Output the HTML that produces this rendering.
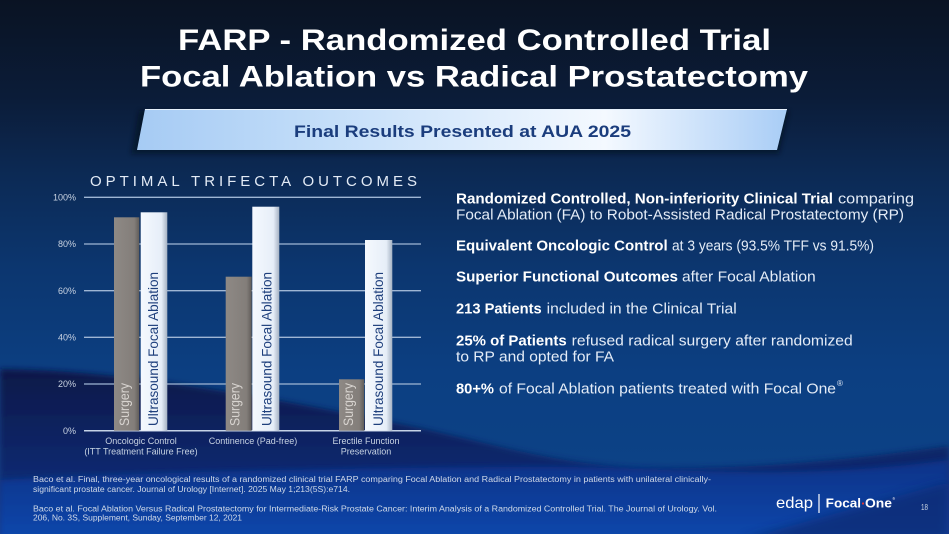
<!DOCTYPE html>
<html>
<head>
<meta charset="utf-8">
<style>
html,body{margin:0;padding:0;background:#0a1323;}
svg{display:block;}
text{font-family:"Liberation Sans",sans-serif;}
</style>
</head>
<body>
<svg width="949" height="534" viewBox="0 0 949 534" xmlns="http://www.w3.org/2000/svg">
<defs>
  <linearGradient id="bg" x1="0" y1="0" x2="0" y2="534" gradientUnits="userSpaceOnUse">
    <stop offset="0" stop-color="#0a1323"/>
    <stop offset="0.18" stop-color="#0b1c38"/>
    <stop offset="0.33" stop-color="#0c2a55"/>
    <stop offset="0.5" stop-color="#0c366f"/>
    <stop offset="0.7" stop-color="#0c3f82"/>
    <stop offset="1" stop-color="#0d4489"/>
  </linearGradient>
  <linearGradient id="band" x1="0" y1="369" x2="0" y2="534" gradientUnits="userSpaceOnUse">
    <stop offset="0" stop-color="#071848"/>
    <stop offset="0.45" stop-color="#0a2464"/>
    <stop offset="1" stop-color="#0c3388"/>
  </linearGradient>
  <linearGradient id="low" x1="0" y1="460" x2="0" y2="534" gradientUnits="userSpaceOnUse">
    <stop offset="0" stop-color="#0c3388"/>
    <stop offset="1" stop-color="#1146aa"/>
  </linearGradient>
  <linearGradient id="banner" x1="137" y1="0" x2="787" y2="0" gradientUnits="userSpaceOnUse">
    <stop offset="0" stop-color="#a6cbf4"/>
    <stop offset="0.3" stop-color="#c4def9"/>
    <stop offset="0.72" stop-color="#f4f9ff"/>
    <stop offset="1" stop-color="#a9cdf6"/>
  </linearGradient>
  <linearGradient id="surg" x1="0" y1="0" x2="1" y2="0">
    <stop offset="0" stop-color="#8e8985"/>
    <stop offset="0.8" stop-color="#837e7a"/>
    <stop offset="1" stop-color="#605c59"/>
  </linearGradient>
  <linearGradient id="ufa" x1="0" y1="0" x2="1" y2="0">
    <stop offset="0" stop-color="#f5f9fe"/>
    <stop offset="0.78" stop-color="#e6eef8"/>
    <stop offset="1" stop-color="#a5b2c3"/>
  </linearGradient>
  <filter id="blur3" x="-5%" y="-20%" width="110%" height="140%"><feGaussianBlur stdDeviation="3"/></filter>
  <filter id="blur5" x="-20%" y="-50%" width="140%" height="200%"><feGaussianBlur stdDeviation="5"/></filter>
  <filter id="shadow" x="-5%" y="-30%" width="110%" height="180%"><feGaussianBlur stdDeviation="2.5"/></filter>
</defs>

<!-- background -->
<rect x="0" y="0" width="949" height="534" fill="url(#bg)"/>
<path d="M0,369 C120,370 260,395 420,428 C500,446 560,464 640,468 C760,470 860,458 949,446 L949,540 L0,540 Z" fill="url(#band)" filter="url(#blur3)"/>
<path d="M0,480 C150,472 350,468 520,467 C620,466 700,474 800,472 C870,470 920,464 949,460 L949,540 L0,540 Z" fill="url(#low)" filter="url(#blur3)"/>
<path d="M740,540 L949,482 L949,540 Z" fill="#0a2a72" opacity="0.75" filter="url(#blur5)"/>

<!-- Title -->
<text x="178" y="50" font-size="30" font-weight="bold" fill="#ffffff" textLength="593" lengthAdjust="spacingAndGlyphs">FARP - Randomized Controlled Trial</text>
<text x="140" y="86.5" font-size="30" font-weight="bold" fill="#ffffff" textLength="668" lengthAdjust="spacingAndGlyphs">Focal Ablation vs Radical Prostatectomy</text>

<!-- Banner -->
<polygon points="139,111 789,111 779,154 131,154" fill="#000814" opacity="0.5" filter="url(#shadow)"/>
<polygon points="145,109 787,109 777,150 137,150" fill="url(#banner)"/>
<line x1="145" y1="109.5" x2="787" y2="109.5" stroke="#e6f1fd" stroke-width="1"/>
<text x="294" y="137" font-size="17" font-weight="bold" fill="#1b3d7d" textLength="337" lengthAdjust="spacingAndGlyphs">Final Results Presented at AUA 2025</text>

<!-- Chart title -->
<text x="90" y="186" font-size="15" fill="#e3ebf6" textLength="327" lengthAdjust="spacing">OPTIMAL TRIFECTA OUTCOMES</text>

<!-- Gridlines -->
<g stroke="#9fb6d4" stroke-width="1.3">
  <line x1="84" y1="197.3" x2="421" y2="197.3"/>
  <line x1="84" y1="244" x2="421" y2="244"/>
  <line x1="84" y1="290.7" x2="421" y2="290.7"/>
  <line x1="84" y1="337.3" x2="421" y2="337.3"/>
  <line x1="84" y1="384" x2="421" y2="384"/>
</g>
<line x1="84" y1="430.7" x2="421" y2="430.7" stroke="#c5d3e6" stroke-width="1.5"/>

<!-- Y labels -->
<g font-size="9" fill="#c9d3e2" text-anchor="end">
  <text x="76" y="200.5">100%</text>
  <text x="76" y="247.2">80%</text>
  <text x="76" y="293.9">60%</text>
  <text x="76" y="340.5">40%</text>
  <text x="76" y="387.2">20%</text>
  <text x="76" y="433.9">0%</text>
</g>

<!-- Bars -->
<rect x="114" y="217.3" width="25.3" height="213.4" fill="url(#surg)"/>
<rect x="140.7" y="212.3" width="26.6" height="218.4" fill="url(#ufa)"/>
<rect x="225.7" y="276.7" width="26" height="154" fill="url(#surg)"/>
<rect x="252.3" y="206.7" width="27" height="224" fill="url(#ufa)"/>
<rect x="339" y="379.3" width="25.3" height="51.4" fill="url(#surg)"/>
<rect x="365" y="240" width="27.3" height="190.7" fill="url(#ufa)"/>

<!-- Bar labels -->
<g font-size="14">
  <text transform="translate(129,426) rotate(-90)" fill="#d8d4d0" textLength="43" lengthAdjust="spacingAndGlyphs">Surgery</text>
  <text transform="translate(158,426) rotate(-90)" fill="#1e3f7c" textLength="154" lengthAdjust="spacingAndGlyphs">Ultrasound Focal Ablation</text>
  <text transform="translate(239.5,426) rotate(-90)" fill="#d8d4d0" textLength="43" lengthAdjust="spacingAndGlyphs">Surgery</text>
  <text transform="translate(271.5,426) rotate(-90)" fill="#1e3f7c" textLength="154" lengthAdjust="spacingAndGlyphs">Ultrasound Focal Ablation</text>
  <text transform="translate(353,426) rotate(-90)" fill="#d8d4d0" textLength="43" lengthAdjust="spacingAndGlyphs">Surgery</text>
  <text transform="translate(383,426) rotate(-90)" fill="#1e3f7c" textLength="154" lengthAdjust="spacingAndGlyphs">Ultrasound Focal Ablation</text>
</g>

<!-- Category labels -->
<g font-size="9" fill="#c6d2e2" text-anchor="middle">
  <text x="141" y="444">Oncologic Control</text>
  <text x="141" y="454.5">(ITT Treatment Failure Free)</text>
  <text x="253" y="444">Continence (Pad-free)</text>
  <text x="366" y="444">Erectile Function</text>
  <text x="366" y="454.5">Preservation</text>
</g>

<!-- Right side bullet text -->
<g font-size="14.5">
  <text x="456" y="203.3" font-weight="bold" fill="#ffffff" textLength="377" lengthAdjust="spacingAndGlyphs">Randomized Controlled, Non-inferiority Clinical Trial</text>
  <text x="838" y="203.3" fill="#e4ecf7" textLength="76" lengthAdjust="spacingAndGlyphs">comparing</text>
  <text x="456" y="219.3" fill="#e4ecf7" textLength="448" lengthAdjust="spacingAndGlyphs">Focal Ablation (FA) to Robot-Assisted Radical Prostatectomy (RP)</text>

  <text x="456" y="250.7" font-weight="bold" fill="#ffffff" textLength="211.7" lengthAdjust="spacingAndGlyphs">Equivalent Oncologic Control</text>
  <text x="672" y="250.7" fill="#e4ecf7" textLength="202" lengthAdjust="spacingAndGlyphs">at 3 years (93.5% TFF vs 91.5%)</text>

  <text x="456" y="281.7" font-weight="bold" fill="#ffffff" textLength="222" lengthAdjust="spacingAndGlyphs">Superior Functional Outcomes</text>
  <text x="682" y="281.7" fill="#e4ecf7" textLength="133.7" lengthAdjust="spacingAndGlyphs">after Focal Ablation</text>

  <text x="456" y="313.3" font-weight="bold" fill="#ffffff" textLength="85.7" lengthAdjust="spacingAndGlyphs">213 Patients</text>
  <text x="546.7" y="313.3" fill="#e4ecf7" textLength="190" lengthAdjust="spacingAndGlyphs">included in the Clinical Trial</text>

  <text x="456" y="345.7" font-weight="bold" fill="#ffffff" textLength="110.7" lengthAdjust="spacingAndGlyphs">25% of Patients</text>
  <text x="571.7" y="345.7" fill="#e4ecf7" textLength="281" lengthAdjust="spacingAndGlyphs">refused radical surgery after randomized</text>
  <text x="456" y="361.7" fill="#e4ecf7" textLength="158" lengthAdjust="spacingAndGlyphs">to RP and opted for FA</text>

  <text x="456" y="393.3" font-weight="bold" fill="#ffffff" textLength="38" lengthAdjust="spacingAndGlyphs">80+%</text>
  <text x="499" y="393.3" fill="#e4ecf7" textLength="337" lengthAdjust="spacingAndGlyphs">of Focal Ablation patients treated with Focal One</text>
  <text x="837" y="386" font-size="8" fill="#e4ecf7">®</text>
</g>

<!-- Footer references -->
<g font-size="8" fill="#d0d9e8">
  <text x="33" y="482" textLength="678" lengthAdjust="spacingAndGlyphs">Baco et al. Final, three-year oncological results of a randomized clinical trial FARP comparing Focal Ablation and Radical Prostatectomy in patients with unilateral clinically-</text>
  <text x="33" y="492" textLength="317" lengthAdjust="spacingAndGlyphs">significant prostate cancer. Journal of Urology [Internet]. 2025 May 1;213(5S):e714.</text>
  <text x="33" y="511.5" textLength="684" lengthAdjust="spacingAndGlyphs">Baco et al. Focal Ablation Versus Radical Prostatectomy for Intermediate-Risk Prostate Cancer: Interim Analysis of a Randomized Controlled Trial. The Journal of Urology. Vol.</text>
  <text x="33" y="520.5" textLength="209" lengthAdjust="spacingAndGlyphs">206, No. 3S, Supplement, Sunday, September 12, 2021</text>
</g>

<!-- Logo -->
<text x="776" y="508" font-size="16" fill="#ffffff" textLength="37" lengthAdjust="spacingAndGlyphs">edap</text>
<line x1="819" y1="494" x2="819" y2="513" stroke="#ffffff" stroke-width="1.2"/>
<text x="825.7" y="507.7" font-size="12.5" font-weight="bold" fill="#ffffff" textLength="35.3" lengthAdjust="spacingAndGlyphs">Focal</text>
<circle cx="863" cy="503.5" r="1.1" fill="#e53935"/>
<text x="865" y="507.7" font-size="12.5" font-weight="bold" fill="#ffffff" textLength="27" lengthAdjust="spacingAndGlyphs">One</text>
<text x="892.5" y="500" font-size="3.5" fill="#ffffff">®</text>
<text x="921" y="510" font-size="8" fill="#c9d3e2" textLength="7" lengthAdjust="spacingAndGlyphs">18</text>
</svg>
</body>
</html>
